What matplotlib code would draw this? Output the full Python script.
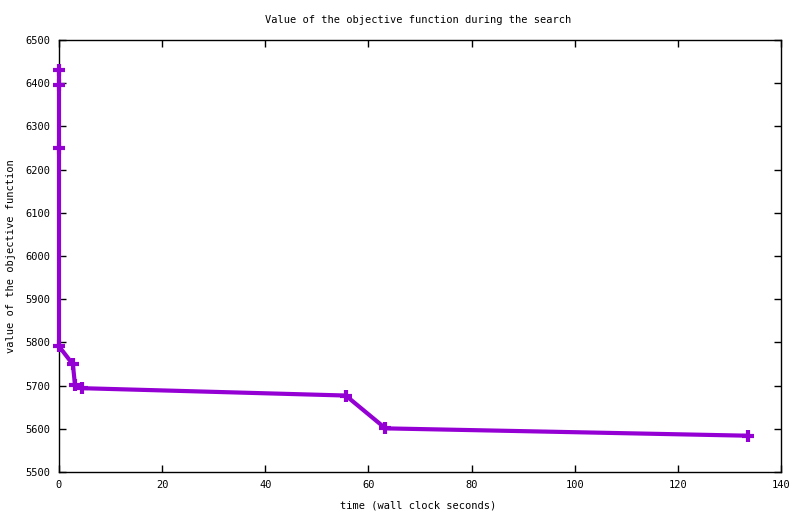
import matplotlib
matplotlib.use("Agg")
import matplotlib.pyplot as plt

# objective value over wall clock time
time_s = [0.0, 0.0, 0.0, 0.0, 2.7, 3.1, 4.5, 55.6, 63.3, 133.6]
objective = [6430, 6396, 6251, 5791, 5749, 5701, 5694, 5677, 5601, 5584]

x_ticks = [0, 20, 40, 60, 80, 100, 120, 140]
y_ticks = [5500, 5600, 5700, 5800, 5900, 6000, 6100, 6200, 6300, 6400, 6500]

plt.rcParams['font.family'] = ['DejaVu Sans Mono']
plt.rcParams['font.size'] = 7.5

fig = plt.figure(figsize=(8.0, 5.14), dpi=100)
ax = fig.add_axes([59 / 800, 1 - 472 / 514, 722 / 800, 432 / 514])

ax.plot(time_s, objective, color='#9400d3', linewidth=3.0,
        marker='+', markersize=9, markeredgewidth=3.0,
        clip_on=False, zorder=5)

ax.set_xlim(0, 140)
ax.set_ylim(5500, 6500)
ax.set_xticks(x_ticks)
ax.set_yticks(y_ticks)
ax.tick_params(direction='in', top=True, right=True, length=5, width=1, pad=6)
for s in ax.spines.values():
    s.set_linewidth(1)

fig.text(418 / 800, 1 - 20 / 514, 'Value of the objective function during the search',
         ha='center', va='center')
fig.text(418 / 800, 1 - 505 / 514, 'time (wall clock seconds)', ha='center', va='center')
fig.text(11 / 800, 1 - 256 / 514, 'value of the objective function', ha='center',
         va='center', rotation=90)

fig.savefig('out.png', dpi=100)
